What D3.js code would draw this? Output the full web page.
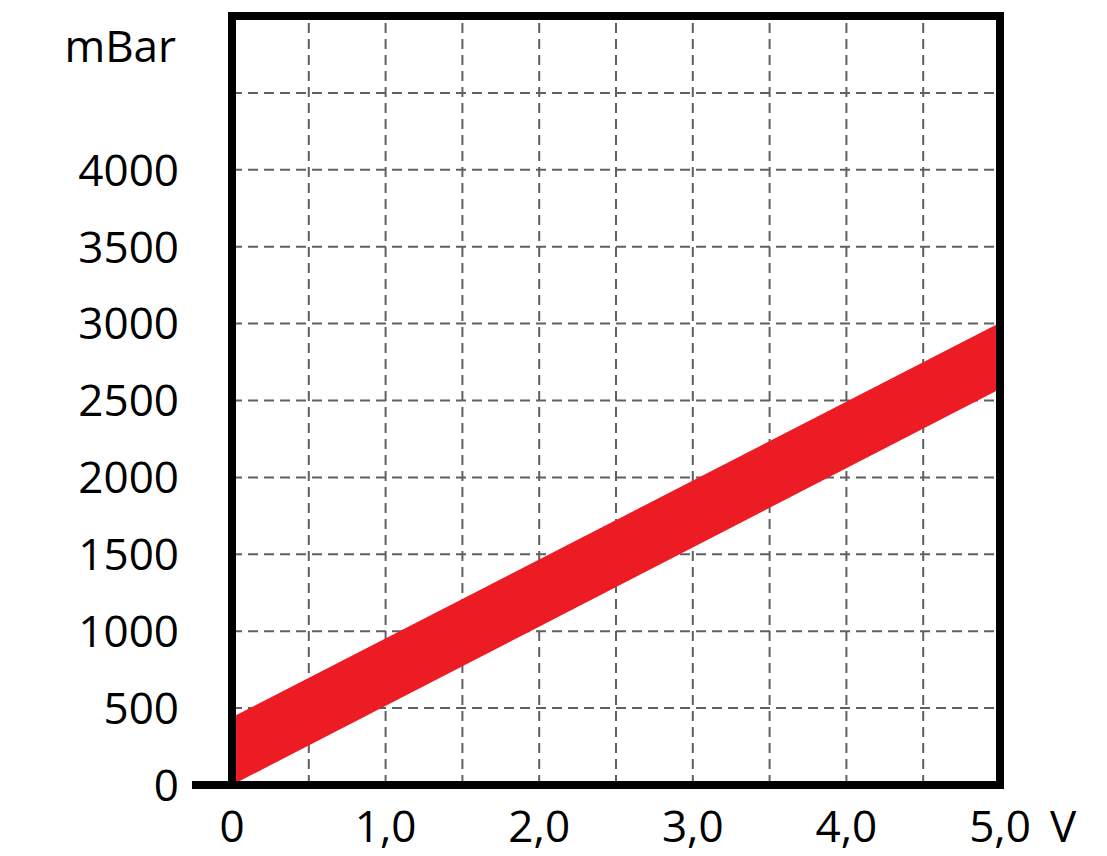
<!DOCTYPE html>
<html><head><meta charset="utf-8">
<script src="https://cdn.jsdelivr.net/npm/d3@7"></script>
<style>body{margin:0;background:#fff;} svg{display:block;}</style>
</head><body>
<svg id="c" width="1107" height="856"></svg>
<script>
// Data
const voltage = [0, 5];
const lowerBound = [0, 2575];
const upperBound = [440, 3005];
const xTicks = [0, 1, 2, 3, 4, 5];
const xTickLabels = ["0", "1,0", "2,0", "3,0", "4,0", "5,0"];
const yTicks = [0, 500, 1000, 1500, 2000, 2500, 3000, 3500, 4000];
const yTickLabels = ["0", "500", "1000", "1500", "2000", "2500", "3000", "3500", "4000"];
const xGrid = [0.5, 1, 1.5, 2, 2.5, 3, 3.5, 4, 4.5];
const yGrid = [500, 1000, 1500, 2000, 2500, 3000, 3500, 4000, 4500];
const yUnit = "mBar";
const xUnit = "V";

const svg = d3.select("#c");
const x = d3.scaleLinear().domain([0, 5]).range([232, 1000]);
const y = d3.scaleLinear().domain([0, 5000]).range([785, 16]);
const font = "'Open Sans', 'Noto Sans', sans-serif";

// grid
const g = svg.append("g").attr("stroke", "#606060").attr("stroke-width", 2).attr("stroke-dasharray", "10,6");
g.selectAll("line.vx").data(xGrid).join("line")
  .attr("x1", d => x(d)).attr("x2", d => x(d)).attr("y1", y(0)).attr("y2", y(5000));
g.selectAll("line.hy").data(yGrid).join("line")
  .attr("y1", d => y(d)).attr("y2", d => y(d)).attr("x1", x(0)).attr("x2", x(5));

// band
const bandData = voltage.map((v, i) => ({v, lo: lowerBound[i], hi: upperBound[i]}));
svg.append("path").datum(bandData)
  .attr("fill", "#ed1c24")
  .attr("d", d3.area().x(d => x(d.v)).y0(d => y(d.lo)).y1(d => y(d.hi)));

// frame
svg.append("rect").attr("x", x(0)).attr("y", y(5000)).attr("width", x(5) - x(0)).attr("height", y(0) - y(5000))
  .attr("fill", "none").attr("stroke", "#000").attr("stroke-width", 8);
svg.append("line").attr("x1", 192).attr("x2", x(0)).attr("y1", y(0)).attr("y2", y(0))
  .attr("stroke", "#000").attr("stroke-width", 8);

// y labels
svg.selectAll("text.yl").data(yTicks).join("text")
  .attr("x", 179).attr("y", d => y(d)).attr("dy", "0.36em")
  .attr("text-anchor", "end").attr("font-family", font).attr("font-size", 44).attr("fill", "#000")
  .text((d, i) => yTickLabels[i]);
svg.append("text").attr("x", 176).attr("y", 62).attr("text-anchor", "end")
  .attr("font-family", font).attr("font-size", 44).text(yUnit);

// x labels
svg.selectAll("text.xl").data(xTicks).join("text")
  .attr("x", d => x(d)).attr("y", 842).attr("text-anchor", "middle")
  .attr("font-family", font).attr("font-size", 44).text((d, i) => xTickLabels[i]);
svg.append("text").attr("x", 1063).attr("y", 842).attr("text-anchor", "middle")
  .attr("font-family", font).attr("font-size", 44).text(xUnit);
</script>
</body></html>
